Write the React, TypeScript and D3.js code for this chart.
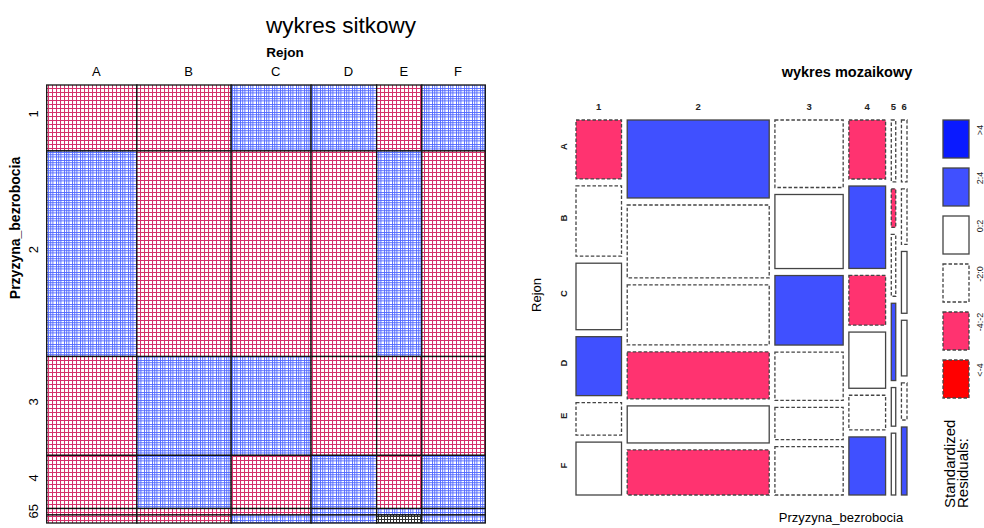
import React from 'react';
import * as d3 from 'd3';

// Przyzyna_bezrobocia (1..6) x Rejon (A..F) estimated counts
const rejon = ['A', 'B', 'C', 'D', 'E', 'F'];
const przyczyna = ['1', '2', '3', '4', '5', '6'];
const countsP1 = [78, 93, 88, 78, 43, 70];
const countsP2 = [322, 301, 248, 194, 153, 186];
const countsP3 = [134, 147, 138, 96, 64, 96];
const countsP4 = [63, 88, 53, 60, 37, 62];
const countsP5 = [8, 5, 8, 10, 5, 8];
const countsP6 = [10, 9, 10, 9, 6, 11];

// standardized residual class shown in the mosaic (2: 2:4, 1: 0:2, -1: -2:0, -2: -4:-2)
const residP1 = [-2, -1, 1, 2, -1, 1];
const residP2 = [2, -1, -1, -2, 1, -2];
const residP3 = [-1, 1, 2, -1, -1, -1];
const residP4 = [-2, 2, -2, 1, -1, 2];
const residP5 = [-1, -2, -1, 2, 1, 1];
const residP6 = [-1, -1, 1, 1, -1, 2];

// sieve shading sign (1 blue, -1 red, 0 black)
const sieveP1 = [-1, -1, 1, 1, -1, 1];
const sieveP2 = [1, -1, -1, -1, 1, -1];
const sieveP3 = [-1, 1, 1, -1, -1, -1];
const sieveP4 = [-1, 1, -1, 1, -1, 1];
const sieveP5 = [-1, -1, -1, 1, 1, 1];
const sieveP6 = [-1, -1, 1, 1, 0, 1];

const legendLabels = ['>4', '2:4', '0:2', '-2:0', '-4:-2', '<-4'];
const legendClasses = [3, 2, 1, -1, -2, -3];

const counts = [countsP1, countsP2, countsP3, countsP4, countsP5, countsP6];
const resid = [residP1, residP2, residP3, residP4, residP5, residP6];
const sieve = [sieveP1, sieveP2, sieveP3, sieveP4, sieveP5, sieveP6];

const FONT = 'Liberation Sans, Arial, sans-serif';

const fillFor = (c: number) =>
  c === 3 ? '#0A1AFF' : c === 2 ? '#4050FF' : c === -2 ? '#FF3370' : c === -3 ? '#FF0000' : '#FFFFFF';

export default function App() {
  const N = d3.sum(counts.flat());
  const rowTot = counts.map((r) => d3.sum(r));
  const colTot = rejon.map((_, j) => d3.sum(counts, (r) => r[j]));
  const cumRow = [0, ...Array.from(d3.cumsum(rowTot))];
  const cumCol = [0, ...Array.from(d3.cumsum(colTot))];

  // sieve plot scales
  const sx = d3.scaleLinear().domain([0, N]).range([46.7, 485.3]);
  const sy = d3.scaleLinear().domain([0, N]).range([85, 523]);

  // mosaic plot
  const mx0 = 576, mx1 = 907, my0 = 120, my1 = 495, gx = 5.7, gy = 7;
  const mxs = d3.scaleLinear().domain([0, N]).range([0, mx1 - mx0 - 5 * gx]);
  const colX = (i: number) => mx0 + mxs(cumRow[i]) + i * gx;
  const colW = (i: number) => mxs(rowTot[i]);
  const rowsIn = (i: number) => {
    const cum = [0, ...Array.from(d3.cumsum(counts[i]))];
    const ys = d3.scaleLinear().domain([0, rowTot[i]]).range([0, my1 - my0 - 5 * gy]);
    return counts[i].map((v, j) => ({ y: my0 + ys(cum[j]) + j * gy, h: ys(v) }));
  };

  const legendTop = d3.scaleLinear().domain([0, 1]).range([120, 168]);

  return (
    <svg width={984} height={528} style={{ position: 'absolute', left: 0, top: 0, background: '#fff' }} fontFamily={FONT}>
      <defs>
        <pattern id="pRed" width={4} height={4} patternUnits="userSpaceOnUse">
          <rect width={4} height={4} fill="#fff" />
          <line x1={0.5} y1={0} x2={0.5} y2={4} stroke="#D4306B" strokeWidth={1.05} />
          <line x1={0} y1={0.5} x2={4} y2={0.5} stroke="#D4306B" strokeWidth={1.05} />
        </pattern>
        <pattern id="pBlue" width={8} height={8} patternUnits="userSpaceOnUse">
          <rect width={8} height={8} fill="#fff" />
          {[0.5, 2.7, 4.9].map((p) => (
            <g key={p}>
              <line x1={p} y1={0} x2={p} y2={8} stroke="#4F66FF" strokeWidth={0.9} />
              <line x1={0} y1={p} x2={8} y2={p} stroke="#4F66FF" strokeWidth={0.9} />
            </g>
          ))}
        </pattern>
        <pattern id="pBlack" width={3} height={3} patternUnits="userSpaceOnUse">
          <rect width={3} height={3} fill="#fff" />
          <line x1={0.5} y1={0} x2={0.5} y2={3} stroke="#333" strokeWidth={1} />
          <line x1={0} y1={0.5} x2={3} y2={0.5} stroke="#333" strokeWidth={1} />
        </pattern>
      </defs>

      {/* ---------- sieve plot ---------- */}
      <text x={341} y={33} fontSize={22.5} textAnchor="middle" fill="#000">wykres sitkowy</text>
      <text x={285} y={57} fontSize={13.5} fontWeight="bold" textAnchor="middle">Rejon</text>
      <text transform="translate(20,228) rotate(-90)" fontSize={14} fontWeight="bold" textAnchor="middle">Przyzyna_bezrobocia</text>
      {rejon.map((r, j) => (
        <text key={r} x={(sx(cumCol[j]) + sx(cumCol[j + 1])) / 2 + 4.5} y={76} fontSize={13} textAnchor="middle">{r}</text>
      ))}
      {przyczyna.map((p, i) => (
        <text key={p} transform={`translate(38,${(sy(cumRow[i]) + sy(cumRow[i + 1])) / 2 - 4}) rotate(-90)`} fontSize={13} textAnchor="middle">{p}</text>
      ))}
      {counts.map((row, i) =>
        row.map((_, j) => {
          const s = sieve[i][j];
          return (
            <rect
              key={`s${i}${j}`}
              x={sx(cumCol[j])}
              y={sy(cumRow[i])}
              width={sx(cumCol[j + 1]) - sx(cumCol[j])}
              height={sy(cumRow[i + 1]) - sy(cumRow[i])}
              fill={s > 0 ? 'url(#pBlue)' : s < 0 ? 'url(#pRed)' : 'url(#pBlack)'}
              stroke="#111"
              strokeWidth={1.3}
            />
          );
        })
      )}

      {/* ---------- mosaic plot ---------- */}
      <text x={847} y={77} fontSize={14.5} fontWeight="bold" textAnchor="middle">wykres mozaikowy</text>
      <text transform="translate(541,295) rotate(-90)" fontSize={13} textAnchor="middle">Rejon</text>
      <text x={841} y={522} fontSize={13} textAnchor="middle">Przyzyna_bezrobocia</text>
      {przyczyna.map((p, i) => (
        <text key={`ml${p}`} x={colX(i) + colW(i) / 2} y={110} fontSize={9.5} fontWeight="bold" textAnchor="middle" fill="#222">{p}</text>
      ))}
      {rowsIn(0).map((r, j) => (
        <text key={`mr${j}`} transform={`translate(567,${r.y + r.h / 2 - 3}) rotate(-90)`} fontSize={9.5} fontWeight="bold" textAnchor="middle" fill="#222">{rejon[j]}</text>
      ))}
      {przyczyna.map((_, i) =>
        rowsIn(i).map((r, j) => {
          const c = resid[i][j];
          return (
            <rect
              key={`m${i}${j}`}
              x={colX(i)}
              y={r.y}
              width={colW(i)}
              height={r.h}
              fill={fillFor(c)}
              stroke="#444"
              strokeWidth={1.3}
              strokeDasharray={c < 0 ? '3.5 2' : undefined}
            />
          );
        })
      )}

      {/* legend */}
      {legendLabels.map((l, k) => {
        const c = legendClasses[k];
        const top = legendTop(k);
        return (
          <g key={l}>
            <rect x={943} y={top} width={26} height={38} fill={fillFor(c)} stroke="#444" strokeWidth={1.3} strokeDasharray={c < 0 ? '3.5 2' : undefined} />
            <text transform={`translate(983,${top + 10}) rotate(-90)`} fontSize={9} textAnchor="middle" fill="#222">{l}</text>
          </g>
        );
      })}
      <text transform="translate(955,508) rotate(-90)" fontSize={15}>Standardized</text>
      <text transform="translate(968,508) rotate(-90)" fontSize={15}>Residuals:</text>
    </svg>
  );
}
